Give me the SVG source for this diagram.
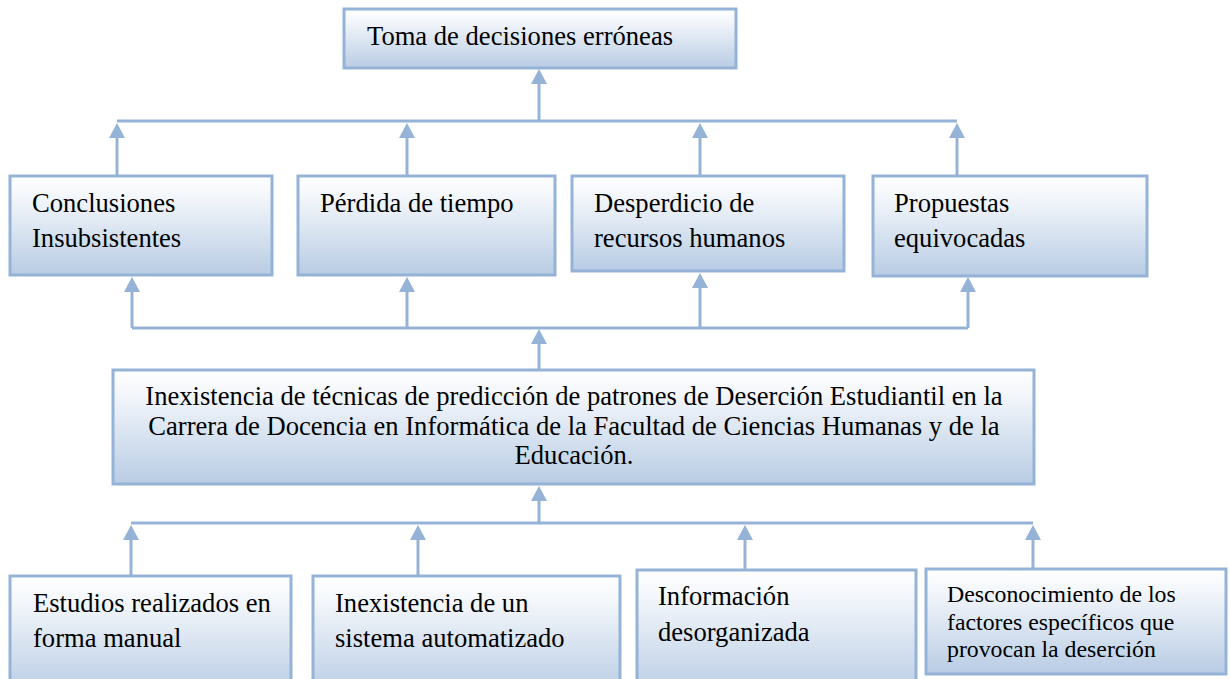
<svg xmlns="http://www.w3.org/2000/svg" width="1230" height="679" viewBox="0 0 1230 679">
<defs>
<linearGradient id="g" x1="0" y1="0" x2="0" y2="1">
<stop offset="0" stop-color="#ffffff"/>
<stop offset="0.2" stop-color="#f4f7fb"/>
<stop offset="1" stop-color="#b8cce4"/>
</linearGradient>
<marker id="ah" viewBox="0 0 15 16" refX="0" refY="8" markerWidth="15" markerHeight="16" markerUnits="userSpaceOnUse" orient="auto">
<path d="M0,0 L15,8 L0,16 Z" fill="#95b3d7"/>
</marker>
<style>
.box{fill:url(#g);stroke:#95b3d7;stroke-width:3}
.t{font-family:"Liberation Serif","Times New Roman",serif;font-size:26.6px;fill:#000}
.s{font-size:23.8px}
.c{fill:none;stroke:#95b3d7;stroke-width:3}
</style>
</defs>
<rect width="1230" height="679" fill="#ffffff"/>
<g id="connectors">
<path class="c" d="M539,121 V84" marker-end="url(#ah)"/>
<path class="c" d="M117,121 H957"/>
<path class="c" d="M117,175 V138" marker-end="url(#ah)"/>
<path class="c" d="M407,175 V138" marker-end="url(#ah)"/>
<path class="c" d="M700,175 V138" marker-end="url(#ah)"/>
<path class="c" d="M957,175 V138" marker-end="url(#ah)"/>
<path class="c" d="M132,328 H968"/>
<path class="c" d="M132,328 V292" marker-end="url(#ah)"/>
<path class="c" d="M407,328 V292" marker-end="url(#ah)"/>
<path class="c" d="M700,328 V288" marker-end="url(#ah)"/>
<path class="c" d="M968,328 V292" marker-end="url(#ah)"/>
<path class="c" d="M539,369 V344" marker-end="url(#ah)"/>
<path class="c" d="M131,523 H1033"/>
<path class="c" d="M539,523 V501" marker-end="url(#ah)"/>
<path class="c" d="M131,575 V540" marker-end="url(#ah)"/>
<path class="c" d="M418,575 V540" marker-end="url(#ah)"/>
<path class="c" d="M745,569 V540" marker-end="url(#ah)"/>
<path class="c" d="M1033,569 V540" marker-end="url(#ah)"/>
</g>
<g id="n-toma">
<rect class="box" x="344" y="9" width="392" height="59"/>
<text class="t" x="367" y="45">Toma de decisiones erróneas</text>
</g>
<g id="n-conclusiones">
<rect class="box" x="10" y="176" width="262" height="99"/>
<text class="t" x="32" y="212">Conclusiones</text>
<text class="t" x="32" y="247">Insubsistentes</text>
</g>
<g id="n-perdida">
<rect class="box" x="298" y="176" width="257" height="99"/>
<text class="t" x="320" y="212">Pérdida de tiempo</text>
</g>
<g id="n-desperdicio">
<rect class="box" x="572" y="176" width="272" height="95"/>
<text class="t" x="594" y="212">Desperdicio de</text>
<text class="t" x="594" y="247">recursos humanos</text>
</g>
<g id="n-propuestas">
<rect class="box" x="873" y="176" width="274" height="100"/>
<text class="t" x="894" y="212">Propuestas</text>
<text class="t" x="894" y="247">equivocadas</text>
</g>
<g id="n-central">
<rect class="box" x="113" y="370" width="921" height="114"/>
<text class="t" x="574" y="405" text-anchor="middle">Inexistencia de técnicas de predicción de patrones de Deserción Estudiantil en la</text>
<text class="t" x="574" y="435" text-anchor="middle">Carrera de Docencia en Informática de la Facultad de Ciencias Humanas y de la</text>
<text class="t" x="574" y="464" text-anchor="middle">Educación.</text>
</g>
<g id="n-estudios">
<rect class="box" x="10" y="576" width="281" height="120"/>
<text class="t" x="33" y="612">Estudios realizados en</text>
<text class="t" x="33" y="647">forma manual</text>
</g>
<g id="n-inexistencia">
<rect class="box" x="313" y="576" width="307" height="120"/>
<text class="t" x="335" y="612">Inexistencia de un</text>
<text class="t" x="335" y="647">sistema automatizado</text>
</g>
<g id="n-informacion">
<rect class="box" x="637" y="570" width="279" height="126"/>
<text class="t" x="658" y="605">Información</text>
<text class="t" x="658" y="641">desorganizada</text>
</g>
<g id="n-desconocimiento">
<rect class="box" x="926" y="569" width="300" height="105"/>
<text class="t s" x="947" y="602">Desconocimiento de los</text>
<text class="t s" x="947" y="630">factores específicos que</text>
<text class="t s" x="947" y="657">provocan la deserción</text>
</g>
</svg>
